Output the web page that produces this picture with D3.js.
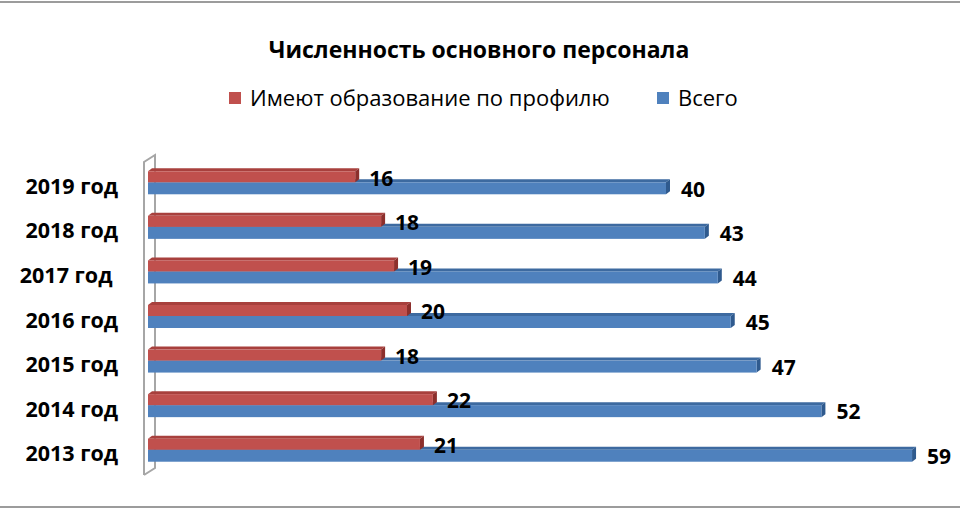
<!DOCTYPE html>
<html lang="ru">
<head>
  <meta charset="UTF-8">
  <title>Численность основного персонала</title>
  <style>
    body { margin: 0; background: #fff; }
    svg text { font-family: "Open Sans", "Noto Sans", sans-serif; fill: #000; }
    .cat { white-space: pre; }
  </style>
  <script src="https://d3js.org/d3.v7.min.js"></script>
</head>
<body>
<div id="chart"></div>
<script>
  // data, top row first
  var years = ["2019 год", "2018 год", "2017 год ", "2016 год", "2015 год", "2014 год", "2013 год"];
  var educated = [16, 18, 19, 20, 18, 22, 21];
  var total = [40, 43, 44, 45, 47, 52, 59];
  var seriesNames = ["Имеют образование по профилю", "Всего"];

  var width = 960, height = 510;
  var svg = d3.select("#chart").append("svg")
    .attr("width", width)
    .attr("height", height);

  // outer frame (only top and bottom edges fall inside the picture)
  svg.append("rect")
    .attr("x", -4).attr("y", 2)
    .attr("width", width + 8).attr("height", 505)
    .attr("fill", "none")
    .attr("stroke", "#9c9c9c")
    .attr("stroke-width", 2);

  var x = d3.scaleLinear().domain([0, 60]).range([148, 925]);
  var y = d3.scaleBand().domain(years).range([160, 472]);

  var dx = 4, dy = 3;      // 3d depth offset
  var hRed = 11, hBlue = 12;

  var colors = {
    red:  { front: "#c0504d", top: "#a8403d", side: "#8c2f2c" },
    blue: { front: "#4f81bd", top: "#3d6aa0", side: "#2f5a8e" }
  };

  // side wall
  var wall = svg.append("g");
  var wTop = 155, wBot = 475;
  wall.append("path")
    .attr("d", d3.line()([
      [144, wBot], [144, wTop + 7], [155, wTop], [155, wBot - 7], [144, wBot]
    ]))
    .attr("fill", "#fff")
    .attr("stroke", "#a6a6a6")
    .attr("stroke-width", 2);

  function bar(g, x1, yTop, h, c) {
    var x0 = x(0);
    g.append("path")
      .attr("d", d3.line()([[x0, yTop], [x0 + dx, yTop - dy], [x1 + dx, yTop - dy], [x1, yTop]]) + "Z")
      .attr("fill", c.top);
    g.append("path")
      .attr("d", d3.line()([[x1, yTop], [x1 + dx, yTop - dy], [x1 + dx, yTop + h - dy], [x1, yTop + h]]) + "Z")
      .attr("fill", c.side);
    g.append("rect")
      .attr("x", x0).attr("y", yTop)
      .attr("width", x1 - x0).attr("height", h)
      .attr("fill", c.front);
  }

  var rows = svg.append("g");
  years.forEach(function (yr, i) {
    var c = y(yr) + y.bandwidth() / 2;
    var g = rows.append("g");
    bar(g, x(total[i]), c, hBlue, colors.blue);
    bar(g, x(educated[i]), c - hRed, hRed, colors.red);

    g.append("text")
      .attr("x", x(educated[i]) + dx + 10)
      .attr("y", c - 4)
      .attr("dy", "0.35em")
      .attr("font-size", 21)
      .attr("font-weight", "bold")
      .text(educated[i]);

    g.append("text")
      .attr("x", x(total[i]) + dx + 11)
      .attr("y", c + 7)
      .attr("dy", "0.35em")
      .attr("font-size", 21)
      .attr("font-weight", "bold")
      .text(total[i]);

    g.append("text")
      .attr("class", "cat")
      .attr("x", 118)
      .attr("y", c + 4)
      .attr("dy", "0.35em")
      .attr("text-anchor", "end")
      .attr("font-size", 21.5)
      .attr("font-weight", "bold")
      .text(yr);
  });

  // title
  svg.append("text")
    .attr("x", 479)
    .attr("y", 58)
    .attr("text-anchor", "middle")
    .attr("font-size", 23)
    .attr("font-weight", "bold")
    .text("Численность основного персонала");

  // legend
  var legend = svg.append("g");
  var legendItems = [
    { name: seriesNames[0], x: 229, color: colors.red.front },
    { name: seriesNames[1], x: 657, color: colors.blue.front }
  ];
  legendItems.forEach(function (d) {
    legend.append("rect")
      .attr("x", d.x).attr("y", 92)
      .attr("width", 12).attr("height", 12)
      .attr("fill", d.color);
    legend.append("text")
      .attr("x", d.x + 21)
      .attr("y", 106)
      .attr("font-size", 22)
      .text(d.name);
  });
</script>
</body>
</html>
